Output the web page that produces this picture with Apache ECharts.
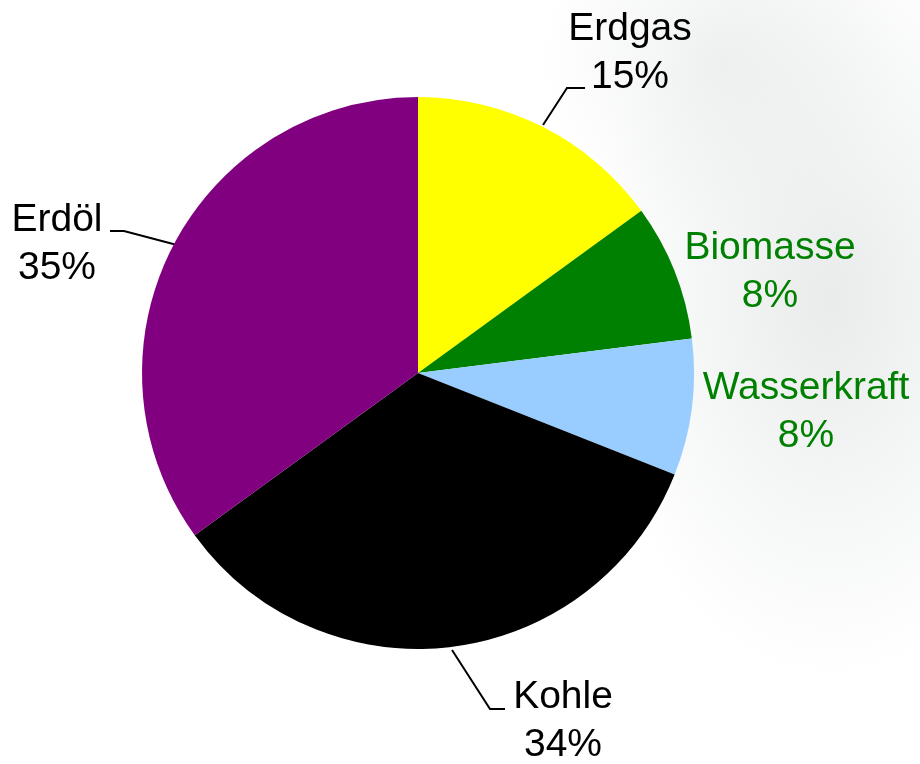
<!DOCTYPE html>
<html>
<head>
<meta charset="utf-8">
<script src="https://cdn.jsdelivr.net/npm/echarts@6/dist/echarts.min.js"></script>
<style>
  html, body {
    margin: 0;
    padding: 0;
  }
  body {
    width: 920px;
    height: 764px;
    background:
      radial-gradient(ellipse 240px 380px at 830px 300px, rgba(228, 231, 231, 0.8), rgba(255, 255, 255, 0) 100%),
      radial-gradient(ellipse 180px 180px at 720px 60px, rgba(234, 236, 236, 0.7), rgba(255, 255, 255, 0) 100%),
      #ffffff;
  }
  #chart {
    width: 920px;
    height: 764px;
  }
</style>
</head>
<body>
<div id="chart"></div>
<script>
// Daten
let names = ["Erdgas", "Biomasse", "Wasserkraft", "Kohle", "Erdöl"];
let values = [15, 8, 8, 34, 35];
let colors = ["#ffff00", "#008000", "#99ccff", "#000000", "#800080"];
let labelColors = ["#000000", "#008000", "#008000", "#000000", "#000000"];

var myChart = echarts.init(document.getElementById("chart"));

// Label-Positionen (Mitte des Textblocks) und Führungslinien
let labelPos = [
  [630, 53],
  [770, 272],
  [806, 412],
  [563, 721],
  [57, 244]
];
let linePoints = [
  [[543, 125], [567, 88], [585, 88]],
  null,
  null,
  [[452, 650], [490, 709], [505, 709]],
  [[177, 245], [124, 231], [110, 231]]
];

let dataList = names.map((n, i) => {
  return {
    name: n,
    value: values[i],
    itemStyle: { color: colors[i] },
    label: { color: labelColors[i] },
    labelLine: { show: linePoints[i] !== null }
  };
});

let option = {
  animation: false,
  series: [
    {
      type: "pie",
      center: [418, 373],
      radius: 276,
      startAngle: 90,
      clockwise: true,
      data: dataList,
      itemStyle: {
        borderWidth: 0
      },
      label: {
        show: true,
        position: "outside",
        formatter: "{b}\n{c}%",
        fontFamily: "Liberation Sans, Arial, sans-serif",
        fontSize: 39,
        lineHeight: 48,
        align: "center",
        overflow: "none",
        width: 300
      },
      labelLine: {
        lineStyle: {
          color: "#000000",
          width: 2
        }
      },
      labelLayout: function(params) {
        let i = params.dataIndex;
        let res = {
          x: labelPos[i][0],
          y: labelPos[i][1],
          align: "center",
          verticalAlign: "middle"
        };
        if (linePoints[i]) {
          res.labelLinePoints = linePoints[i];
        }
        return res;
      }
    }
  ]
};
myChart.setOption(option);
</script>
</body>
</html>
